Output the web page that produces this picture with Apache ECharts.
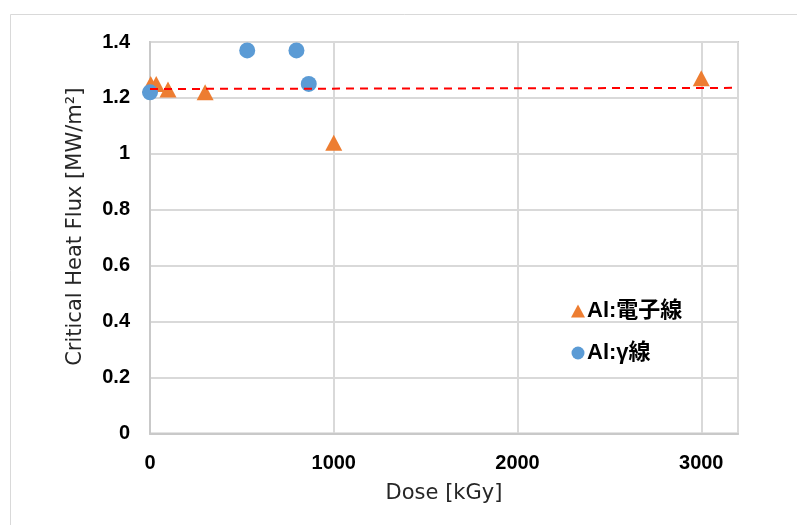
<!DOCTYPE html>
<html>
<head>
<meta charset="utf-8">
<script src="https://cdn.jsdelivr.net/npm/echarts@6/dist/echarts.min.js"></script>
<style>
  html, body { margin: 0; padding: 0; background: #fff; }
  #chart { width: 797px; height: 525px; }
</style>
</head>
<body>
<div id="chart"></div>
<script>
// Critical heat flux vs. absorbed dose for Al samples
const electronDose = [4, 34, 98, 300, 1000, 3000];
const electronChf  = [1.25, 1.25, 1.23, 1.22, 1.04, 1.27];
const gammaDose = [0, 529, 797, 864];
const gammaChf  = [1.22, 1.37, 1.37, 1.25];
// Linear fit drawn across the full dose range
const fitDose = [0, 3200];
const fitChf  = [1.232, 1.236];

const xTicks = { min: 0, max: 3200, interval: 1000 };
const yTicks = { min: 0, max: 1.4, interval: 0.2 };

const seriesNames = ['Al:電子線', 'Al:γ線'];

const tickFont = '"Liberation Sans", Arial, sans-serif';
const titleFont = '"DejaVu Sans", "Liberation Sans", sans-serif';
const legendFont = '"Liberation Sans", Arial, "Noto Sans CJK JP", sans-serif';

const chart = echarts.init(document.getElementById('chart'), null, { renderer: 'canvas' });

chart.setOption({
  backgroundColor: '#ffffff',
  animation: false,
  graphic: [{
    type: 'rect',
    shape: { x: 10.5, y: 14.5, width: 820, height: 560 },
    style: { fill: 'none', stroke: '#d9d9d9', lineWidth: 1 },
    silent: true, z: -10
  }],
  grid: {
    left: 150, top: 42, width: 588, height: 391.5,
    show: true, borderColor: '#c9c9c9', borderWidth: 2,
    backgroundColor: 'transparent'
  },
  legend: {
    orient: 'vertical',
    left: 566, top: 295,
    itemGap: 20,
    itemWidth: 14, itemHeight: 13,
    textStyle: { fontSize: 22, fontWeight: 'bold', color: '#000', fontFamily: legendFont, padding: [0, 0, 0, -3] },
    data: [
      { name: seriesNames[0], icon: 'triangle' },
      { name: seriesNames[1], icon: 'circle' }
    ]
  },
  xAxis: {
    type: 'value',
    min: xTicks.min, max: xTicks.max, interval: xTicks.interval,
    name: 'Dose [kGy]', nameLocation: 'middle', nameGap: 50,
    nameTextStyle: { fontSize: 21, color: '#262626', fontFamily: titleFont },
    axisLine: { show: true, lineStyle: { color: '#c9c9c9', width: 2 } },
    axisTick: { show: false },
    axisLabel: {
      fontSize: 20, fontWeight: 'bold', color: '#000', margin: 20, fontFamily: tickFont,
      showMaxLabel: false,
      formatter: v => (v % 1000 === 0 ? String(v) : '')
    },
    splitLine: { show: true, lineStyle: { color: '#d9d9d9', width: 2 } }
  },
  yAxis: {
    type: 'value',
    min: yTicks.min, max: yTicks.max, interval: yTicks.interval,
    name: 'Critical Heat Flux [MW/m²]', nameLocation: 'middle', nameGap: 64,
    nameRotate: 90,
    nameTextStyle: { fontSize: 21, color: '#262626', fontFamily: titleFont, padding: [0, 0, 0, 22] },
    axisLine: { show: true, lineStyle: { color: '#c9c9c9', width: 2 } },
    axisTick: { show: false },
    axisLabel: {
      fontSize: 20, fontWeight: 'bold', color: '#000', margin: 20, fontFamily: tickFont,
      formatter: v => String(Math.round(v * 10) / 10)
    },
    splitLine: { show: true, lineStyle: { color: '#d9d9d9', width: 2 } }
  },
  series: [
    {
      name: seriesNames[0],
      type: 'scatter',
      symbol: 'triangle',
      symbolSize: [17, 16],
      itemStyle: { color: '#ED7D31', opacity: 1 },
      data: electronDose.map((d, i) => [d, electronChf[i]]),
      z: 3
    },
    {
      name: seriesNames[1],
      type: 'scatter',
      symbol: 'circle',
      symbolSize: 16,
      itemStyle: { color: '#5B9BD5', opacity: 1 },
      data: gammaDose.map((d, i) => [d, gammaChf[i]]),
      z: 4
    },
    {
      name: 'fit',
      type: 'line',
      showSymbol: false,
      symbol: 'none',
      lineStyle: { color: '#FF0000', width: 2, type: [8, 6] },
      data: fitDose.map((d, i) => [d, fitChf[i]]),
      z: 5,
      silent: true
    }
  ]
});
</script>
</body>
</html>
